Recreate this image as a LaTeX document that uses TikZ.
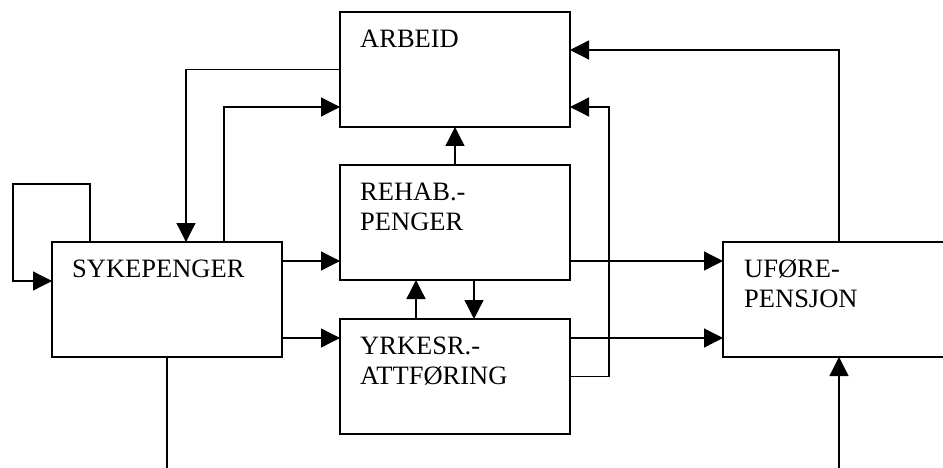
\documentclass[tikz,border=0pt]{standalone}
\usepackage{fontspec}
\setmainfont{Liberation Serif}
\usetikzlibrary{arrows.meta}
\begin{document}
\begin{tikzpicture}[x=1pt,y=-1pt,
  box/.style={draw,line width=1.3pt,minimum width=230pt,minimum height=115pt,anchor=north west,inner sep=0pt,outer sep=0pt},
  lbl/.style={anchor=base west,inner sep=0pt,font=\fontsize{26.5}{30}\selectfont},
  conn/.style={line width=1.3pt},
  arr/.style={conn,-{Triangle[length=19pt,width=19pt]}}]
\useasboundingbox (0,0) rectangle (943,468);
\clip (0,0) rectangle (943,468);
% boxes
\node[box] (arb) at (340,12) {};
\node[box] (reh) at (340,165) {};
\node[box] (yrk) at (340,319) {};
\node[box] (syk) at (52,242) {};
\node[box,minimum width=240pt] (ufo) at (723,242) {};
% labels
\node[lbl] (tarb) at ([xshift=20pt,yshift=-35.5pt]arb.north west) {ARBEID};
\node[lbl] (treh) at ([xshift=20pt,yshift=-35.5pt]reh.north west) {\begin{tabular}[t]{@{}l@{}}REHAB.-\\PENGER\end{tabular}};
\node[lbl] (tyrk) at ([xshift=20pt,yshift=-35.5pt]yrk.north west) {\begin{tabular}[t]{@{}l@{}}YRKESR.-\\ATTFØRING\end{tabular}};
\node[lbl] (tsyk) at ([xshift=20pt,yshift=-35.5pt]syk.north west) {SYKEPENGER};
\node[lbl] (tufo) at ([xshift=21pt,yshift=-35.5pt]ufo.north west) {\begin{tabular}[t]{@{}l@{}}UFØRE-\\PENSJON\end{tabular}};
% free ends
\coordinate (sykout) at (167,470);
\coordinate (ufoin) at (839,470);
% connectors
\draw[arr] ([xshift=38pt]syk.north west) -- ++(0,-58) -- ++(-77,0) |- ([yshift=18.5pt]syk.west);
\draw[arr] (arb.west) -| ([xshift=134pt]syk.north west);
\draw[arr] ([xshift=172pt]syk.north west) |- ([yshift=-37.5pt]arb.west);
\draw[arr] (reh.north) -- (arb.south);
\draw[arr] ([xshift=116pt]ufo.north west) |- ([yshift=19.5pt]arb.east);
\draw[arr] (yrk.east) -- ++(39,0) |- ([yshift=-37.5pt]arb.east);
\draw[arr] ([yshift=38.5pt]syk.east) -- ([yshift=-38.5pt]reh.west);
\draw[arr] ([yshift=-38.5pt]syk.east) -- ([yshift=38.5pt]yrk.west);
\draw[arr] ([xshift=-39pt]yrk.north) -- ([xshift=-39pt]reh.south);
\draw[arr] ([xshift=19pt]reh.south) -- ([xshift=19pt]yrk.north);
\draw[arr] ([yshift=-38.5pt]reh.east) -- ([yshift=38.5pt]ufo.west);
\draw[arr] ([yshift=38.5pt]yrk.east) -- ([yshift=-38.5pt]ufo.west);
\draw[conn] (syk.south) -- (sykout);
\draw[arr] (ufoin) -- ([xshift=116pt]ufo.south west);
\end{tikzpicture}
\end{document}
